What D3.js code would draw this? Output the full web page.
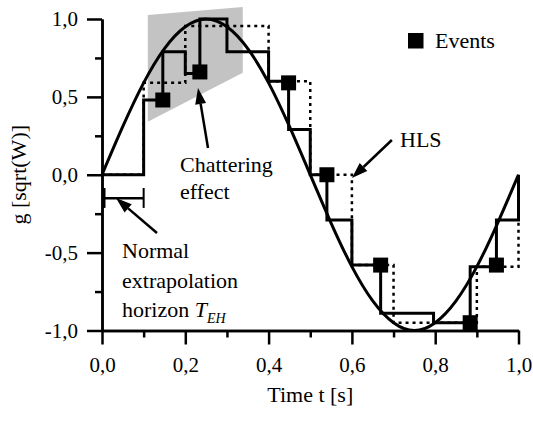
<!DOCTYPE html>
<html><head><meta charset="utf-8">
<script src="https://cdn.jsdelivr.net/npm/d3@7/dist/d3.min.js"></script>
<style>
body{margin:0;background:#fff}
svg text{font-family:"Liberation Serif","Times New Roman",serif;fill:#000}
</style>
</head><body>
<svg id="c" width="533" height="421"></svg>
<script>
// ---- data ----
const curveT = [0,0.05,0.1,0.15,0.2,0.25,0.3,0.35,0.4,0.45,0.5,0.55,0.6,0.65,0.7,0.75,0.8,0.85,0.9,0.95,1.0];
const curveG = [0,0.31,0.59,0.81,0.95,1.0,0.95,0.81,0.59,0.31,0,-0.31,-0.59,-0.81,-0.95,-1.0,-0.95,-0.81,-0.59,-0.31,0];

const stepT = [0,0.1,0.1,0.146,0.146,0.2,0.2,0.235,0.235,0.3,0.3,0.4,0.4,0.448,0.448,0.5,0.5,0.54,0.54,0.6,0.6,0.669,0.669,0.796,0.796,0.884,0.884,0.947,0.947,1.0,1.0];
const stepG = [0,0,0.48,0.48,0.79,0.79,0.65,0.65,1.0,1.0,0.79,0.79,0.6,0.6,0.29,0.29,0,0,-0.29,-0.29,-0.58,-0.58,-0.89,-0.89,-0.95,-0.95,-0.59,-0.59,-0.29,-0.29,0];

const hlsT = [0,0.1,0.1,0.2,0.2,0.4,0.4,0.4,0.5,0.5,0.5,0.6,0.6,0.6,0.7,0.7,0.9,0.9,1.0,1.0];
const hlsG = [0,0,0.59,0.59,0.955,0.955,0.79,0.6,0.6,0.29,0,0,-0.29,-0.58,-0.58,-0.95,-0.95,-0.59,-0.59,-0.29];

const eventT = [0.146,0.235,0.448,0.54,0.669,0.884,0.947];
const eventG = [0.48,0.66,0.59,0.0,-0.58,-0.95,-0.58];

const xMajor = [0,0.2,0.4,0.6,0.8,1.0];
const xMajorLabels = ["0,0","0,2","0,4","0,6","0,8","1,0"];
const xMinor = [0.1,0.3,0.5,0.7,0.9];
const yMajor = [-1,-0.5,0,0.5,1];
const yMajorLabels = ["-1,0","-0,5","0,0","0,5","1,0"];
const yMinor = [-0.75,-0.25,0.25,0.75];

const xTitle = "Time t [s]";
const yTitle = "g [sqrt(W)]";
const legendLabel = "Events";

// annotation geometry (data units)
const chatterPolyT = [0.11,0.338,0.338,0.11];
const chatterPolyG = [1.026,1.077,0.655,0.34];

// ---- drawing ----
const FONT = '"Liberation Serif","Times New Roman",serif';
const svg = d3.select("#c");
const x = d3.scaleLinear().domain([0,1]).range([102,518.5]);
const y = d3.scaleLinear().domain([-1,1]).range([330.5,19]);

// grey chattering area
svg.append("polygon")
  .attr("points", chatterPolyT.map((t,i)=>[x(t),y(chatterPolyG[i])].join(",")).join(" "))
  .attr("fill","#c3c3c3");

// axes
const xAxisMajor = d3.axisBottom(x).tickValues(xMajor).tickFormat((d,i)=>xMajorLabels[i]).tickSize(14).tickSizeOuter(0).tickPadding(13);
const xAxisMinor = d3.axisBottom(x).tickValues(xMinor).tickFormat("").tickSize(7).tickSizeOuter(0);
const yAxisMajor = d3.axisLeft(y).tickValues(yMajor).tickFormat((d,i)=>yMajorLabels[i]).tickSize(15).tickSizeOuter(0).tickPadding(9);
const yAxisMinor = d3.axisLeft(y).tickValues(yMinor).tickFormat("").tickSize(7).tickSizeOuter(0);

function styleAxis(g){
  g.attr("font-family",FONT);
  g.selectAll("path,line").attr("stroke","#000").attr("stroke-width",2.5);
  g.selectAll("text").style("font-size","21px").style("font-family",FONT).attr("fill","#000");
}
svg.append("g").attr("transform",`translate(0,${y(-1)})`).call(xAxisMinor).call(styleAxis);
svg.append("g").attr("transform",`translate(0,${y(-1)})`).call(xAxisMajor).call(styleAxis);
svg.append("g").attr("transform",`translate(${x(0)},0)`).call(yAxisMinor).call(styleAxis);
svg.append("g").attr("transform",`translate(${x(0)},0)`).call(yAxisMajor).call(styleAxis);

// HLS dotted
svg.append("path")
  .datum(hlsT.map((t,i)=>[t,hlsG[i]]))
  .attr("d", d3.line().x(d=>x(d[0])).y(d=>y(d[1])))
  .attr("fill","none").attr("stroke","#000").attr("stroke-width",2.5)
  .attr("stroke-dasharray","3,4");

// sine curve
svg.append("path")
  .datum(curveT.map((t,i)=>[t,curveG[i]]))
  .attr("d", d3.line().x(d=>x(d[0])).y(d=>y(d[1])).curve(d3.curveNatural))
  .attr("fill","none").attr("stroke","#000").attr("stroke-width",3);

// step
svg.append("path")
  .datum(stepT.map((t,i)=>[t,stepG[i]]))
  .attr("d", d3.line().x(d=>x(d[0])).y(d=>y(d[1])))
  .attr("fill","none").attr("stroke","#000").attr("stroke-width",3)
  .attr("stroke-linejoin","miter");

// events
const sq = 15;
svg.selectAll("rect.ev").data(eventT.map((t,i)=>[t,eventG[i]])).enter()
  .append("rect").attr("class","ev")
  .attr("x",d=>x(d[0])-sq/2).attr("y",d=>y(d[1])-sq/2)
  .attr("width",sq).attr("height",sq).attr("fill","#000");

// legend
svg.append("rect").attr("x",408).attr("y",33).attr("width",15.5).attr("height",15.5).attr("fill","#000");
svg.append("text").attr("x",435).attr("y",47.5).style("font-size","22px").style("font-family",FONT).text(legendLabel);

// axis titles
svg.append("text").attr("x",(x(0)+x(1))/2).attr("y",402).attr("text-anchor","middle").style("font-size","22px").style("font-family",FONT).text(xTitle);
svg.append("text").attr("transform",`translate(26,${(y(-1)+y(1))/2}) rotate(-90)`).attr("text-anchor","middle").style("font-size","22px").style("font-family",FONT).text(yTitle);

// arrows
function arrow(t0,g0,t1,g1){
  const x0=x(t0),y0=y(g0),x1=x(t1),y1=y(g1);
  const a=Math.atan2(y1-y0,x1-x0), L=16, W=5.5;
  const bx=x1-L*Math.cos(a), by=y1-L*Math.sin(a);
  svg.append("line").attr("x1",x0).attr("y1",y0).attr("x2",bx).attr("y2",by).attr("stroke","#000").attr("stroke-width",2.5);
  svg.append("polygon").attr("points",[[x1,y1],[bx+W*Math.sin(a),by-W*Math.cos(a)],[bx-W*Math.sin(a),by+W*Math.cos(a)]].map(p=>p.join(",")).join(" ")).attr("fill","#000");
}
arrow(0.2545,0.172,0.2305,0.557);   // chattering
arrow(0.132,-0.374,0.0336,-0.149);  // horizon
arrow(0.696,0.223,0.6,-0.021);      // HLS

// horizon bracket
const hb = -0.151;
svg.append("line").attr("x1",x(0)).attr("x2",x(0.1)).attr("y1",y(hb)).attr("y2",y(hb)).attr("stroke","#000").attr("stroke-width",2.5);
svg.append("line").attr("x1",x(0)+2).attr("x2",x(0)+2).attr("y1",y(-0.085)).attr("y2",y(-0.213)).attr("stroke","#000").attr("stroke-width",3);
svg.append("line").attr("x1",x(0.1)).attr("x2",x(0.1)).attr("y1",y(-0.085)).attr("y2",y(-0.213)).attr("stroke","#000").attr("stroke-width",2);

// annotation texts
const fs="22px";
function label(px,py,str){ return svg.append("text").attr("x",px).attr("y",py).style("font-size",fs).style("font-family",FONT).text(str); }
label(180,172,"Chattering");
label(180,199,"effect");
label(400,147,"HLS");
label(122,258,"Normal");
label(122,288,"extrapolation");
const h = label(122,317,"");
h.append("tspan").text("horizon ");
h.append("tspan").style("font-style","italic").text("T");
h.append("tspan").style("font-style","italic").style("font-size","14px").attr("dy",6).text("EH");
</script>
</body></html>
